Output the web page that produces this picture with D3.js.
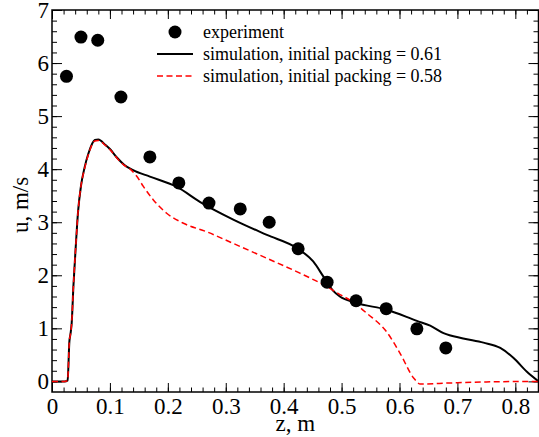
<!DOCTYPE html>
<html>
<head>
<meta charset="utf-8">
<script src="https://cdn.jsdelivr.net/npm/d3@7"></script>
<style>
  html, body { margin: 0; padding: 0; background: #fff; }
  svg { display: block; font-family: "Liberation Serif", "Times New Roman", serif; }
  text { font-family: "Liberation Serif", "Times New Roman", serif; fill: #000; }
</style>
</head>
<body>
<svg id="chart" width="539" height="437"></svg>
<script>
// Measured axial velocity
const expZ = [0.025, 0.05, 0.079, 0.119, 0.169, 0.219, 0.271, 0.325, 0.375, 0.425, 0.475, 0.525, 0.577, 0.630, 0.680];
const expU = [5.75, 6.49, 6.43, 5.36, 4.23, 3.74, 3.36, 3.25, 3.00, 2.50, 1.87, 1.52, 1.37, 0.99, 0.63];

// Simulation, initial packing 0.61
const sim61Z = [0, 0.022, 0.027, 0.030, 0.032, 0.034, 0.037, 0.041, 0.045, 0.050, 0.056, 0.063, 0.074, 0.080, 0.092, 0.100, 0.112, 0.125, 0.140, 0.169, 0.215, 0.256, 0.313, 0.371, 0.423, 0.451, 0.469, 0.486, 0.497, 0.525, 0.578, 0.630, 0.653, 0.676, 0.710, 0.745, 0.774, 0.797, 0.820, 0.840];
const sim61U = [0, 0, 0.02, 0.75, 0.90, 1.10, 1.80, 2.54, 3.20, 3.68, 4.02, 4.30, 4.55, 4.56, 4.46, 4.38, 4.22, 4.08, 3.98, 3.86, 3.67, 3.38, 3.05, 2.76, 2.51, 2.26, 1.97, 1.70, 1.60, 1.48, 1.35, 1.14, 1.05, 0.91, 0.81, 0.73, 0.63, 0.44, 0.18, 0.0];

// Simulation, initial packing 0.58
const sim58Z = [0, 0.022, 0.027, 0.030, 0.032, 0.034, 0.037, 0.041, 0.045, 0.050, 0.056, 0.063, 0.074, 0.080, 0.092, 0.100, 0.112, 0.125, 0.135, 0.146, 0.158, 0.175, 0.198, 0.227, 0.267, 0.313, 0.371, 0.428, 0.474, 0.500, 0.515, 0.544, 0.578, 0.601, 0.624, 0.636, 0.687, 0.750, 0.840];
const sim58U = [0, 0, 0.02, 0.75, 0.90, 1.10, 1.80, 2.54, 3.20, 3.68, 4.00, 4.28, 4.53, 4.54, 4.45, 4.37, 4.21, 4.07, 4.00, 3.87, 3.67, 3.42, 3.17, 2.98, 2.82, 2.60, 2.32, 2.04, 1.79, 1.62, 1.53, 1.28, 0.93, 0.53, 0.07, -0.05, -0.03, -0.01, 0.0];

const xTicks = [0, 0.1, 0.2, 0.3, 0.4, 0.5, 0.6, 0.7, 0.8];
const yTicks = [0, 1, 2, 3, 4, 5, 6, 7];

const legendLabels = ["experiment", "simulation, initial packing = 0.61", "simulation, initial packing = 0.58"];

const svg = d3.select("#chart");
const pLeft = 52, pRight = 538.5, pTop = 10, pBottom = 392;

const x = d3.scaleLinear().domain([0, 0.84]).range([pLeft, pRight]);
const y = d3.scaleLinear().domain([-0.2, 7]).range([pBottom, pTop]);

const xMinor = d3.range(0, 0.8401, 0.02).map(v => +v.toFixed(2));
const yMinor = d3.range(0, 7.001, 0.2).map(v => +v.toFixed(1));

const tickFont = 23;

// Bottom axis
const gx = svg.append("g").attr("transform", `translate(0,${pBottom})`);
gx.call(d3.axisBottom(x).tickValues(xMinor).tickSize(-4.5).tickFormat(""));
gx.append("g").call(d3.axisBottom(x).tickValues(xTicks).tickSize(-9).tickPadding(6).tickFormat(d => d === 0 ? "0" : d3.format(".1f")(d)));
// Top axis
const gxt = svg.append("g").attr("transform", `translate(0,${pTop})`);
gxt.call(d3.axisTop(x).tickValues(xMinor).tickSize(-4.5).tickFormat(""));
gxt.append("g").call(d3.axisTop(x).tickValues(xTicks).tickSize(-9).tickFormat(""));
// Left axis
const gy = svg.append("g").attr("transform", `translate(${pLeft},0)`);
gy.call(d3.axisLeft(y).tickValues(yMinor).tickSize(-5).tickFormat(""));
gy.append("g").call(d3.axisLeft(y).tickValues(yTicks).tickSize(-10).tickPadding(3).tickFormat(d3.format("d")));
// Right axis
const gyr = svg.append("g").attr("transform", `translate(${pRight},0)`);
gyr.call(d3.axisRight(y).tickValues(yMinor).tickSize(-5).tickFormat(""));
gyr.append("g").call(d3.axisRight(y).tickValues(yTicks).tickSize(-10).tickFormat(""));

svg.selectAll(".domain").remove();
svg.selectAll("g").attr("font-family", null).attr("font-size", null);
svg.selectAll(".tick line").attr("stroke", "#000").attr("stroke-width", 1);
svg.selectAll(".tick text").attr("font-size", tickFont).attr("fill", "#000");

// Frame
svg.append("rect")
  .attr("x", pLeft).attr("y", pTop)
  .attr("width", pRight - pLeft).attr("height", pBottom - pTop)
  .attr("fill", "none").attr("stroke", "#000").attr("stroke-width", 1.5);

// Axis titles
svg.append("text")
  .attr("x", (pLeft + pRight) / 2).attr("y", 431)
  .attr("text-anchor", "middle").attr("font-size", 23)
  .text("z, m");
svg.append("text")
  .attr("transform", `translate(28,205) rotate(-90)`)
  .attr("text-anchor", "middle").attr("font-size", 23)
  .text("u, m/s");

// Curves
svg.append("clipPath").attr("id", "plotArea")
  .append("rect").attr("x", pLeft).attr("y", pTop).attr("width", pRight - pLeft).attr("height", pBottom - pTop);

const line = d3.line().x(d => x(d[0])).y(d => y(d[1])).curve(d3.curveMonotoneX);

svg.append("path")
  .datum(d3.zip(sim61Z, sim61U))
  .attr("clip-path", "url(#plotArea)")
  .attr("d", line)
  .attr("fill", "none").attr("stroke", "#000").attr("stroke-width", 2);

svg.append("path")
  .datum(d3.zip(sim58Z, sim58U))
  .attr("clip-path", "url(#plotArea)")
  .attr("d", line)
  .attr("fill", "none").attr("stroke", "#ff0000").attr("stroke-width", 1.5)
  .attr("stroke-dasharray", "6,3.5");

// Experimental points
svg.append("g").selectAll("circle")
  .data(d3.zip(expZ, expU))
  .join("circle")
  .attr("cx", d => x(d[0])).attr("cy", d => y(d[1]))
  .attr("r", 6.5).attr("fill", "#000");

// Legend
const lg = svg.append("g");
const rowY = [32, 54, 76];
lg.append("circle").attr("cx", 175).attr("cy", rowY[0]).attr("r", 6.5).attr("fill", "#000");
lg.append("line").attr("x1", 157).attr("x2", 193).attr("y1", rowY[1]).attr("y2", rowY[1])
  .attr("stroke", "#000").attr("stroke-width", 2);
lg.append("line").attr("x1", 157).attr("x2", 193).attr("y1", rowY[2]).attr("y2", rowY[2])
  .attr("stroke", "#ff0000").attr("stroke-width", 1.5).attr("stroke-dasharray", "6,3.5");
lg.selectAll("text.lab")
  .data(legendLabels)
  .join("text")
  .attr("class", "lab")
  .attr("x", 203).attr("y", (d, i) => rowY[i] + 5.5)
  .attr("font-size", 18)
  .text(d => d);
</script>
</body>
</html>
